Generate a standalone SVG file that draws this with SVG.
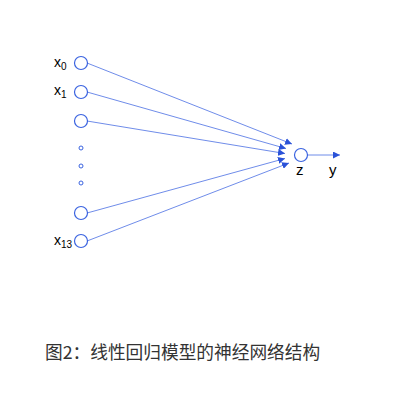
<svg xmlns="http://www.w3.org/2000/svg" width="411" height="402" viewBox="0 0 411 402">
<style>
.n{fill:none;stroke:#3a63e0;stroke-width:1.2}
.d{fill:none;stroke:#3a63e0;stroke-width:1}
.e{stroke:#4a6fe3;stroke-width:0.8;fill:none}
.l{font-family:"Liberation Sans",Arial,sans-serif;fill:#000}
.cap{font-family:"Noto Sans CJK SC","Liberation Sans",sans-serif;font-size:17.7px;fill:#333}
</style>
<defs>
<marker id="ah" viewBox="0 0 10 10" refX="10" refY="5" markerWidth="7" markerHeight="7" markerUnits="userSpaceOnUse" orient="auto">
<path d="M0,0 L10,5 L0,10 z" fill="#2a52d8"/>
</marker>
</defs>
<rect width="411" height="402" fill="#fff"/>
<g id="connectors">
<line class="e" x1="87" y1="63" x2="292" y2="144" marker-end="url(#ah)"/>
<line class="e" x1="87" y1="92" x2="286" y2="148.5" marker-end="url(#ah)"/>
<line class="e" x1="87" y1="121" x2="285" y2="153.5" marker-end="url(#ah)"/>
<line class="e" x1="87" y1="213" x2="285" y2="158.5" marker-end="url(#ah)"/>
<line class="e" x1="87" y1="241" x2="289" y2="163" marker-end="url(#ah)"/>
<line class="e" x1="308" y1="155" x2="340" y2="155" marker-end="url(#ah)"/>
</g>
<g id="x0"><circle class="n" cx="81" cy="63" r="6.5"/><text class="l" x="54" y="67" font-size="14">x<tspan font-size="10" dy="3">0</tspan></text></g>
<g id="x1"><circle class="n" cx="81" cy="92" r="6.5"/><text class="l" x="54" y="95" font-size="14">x<tspan font-size="10" dy="3">1</tspan></text></g>
<g id="x2"><circle class="n" cx="81" cy="121" r="6.5"/></g>
<g id="dots">
<circle class="d" cx="81" cy="148" r="2"/>
<circle class="d" cx="81" cy="166" r="2"/>
<circle class="d" cx="81" cy="183" r="2"/>
</g>
<g id="x12"><circle class="n" cx="81" cy="213" r="6.5"/></g>
<g id="x13"><circle class="n" cx="81" cy="241" r="6.5"/><text class="l" x="54" y="245" font-size="14">x<tspan font-size="10" dy="3">13</tspan></text></g>
<g id="z"><circle class="n" cx="301" cy="155" r="6.5"/><text class="l" x="296" y="175" font-size="15">z</text></g>
<g id="y"><text class="l" x="329" y="175" font-size="15">y</text></g>
<text class="cap" x="45" y="359">图2：线性回归模型的神经网络结构</text>
</svg>
